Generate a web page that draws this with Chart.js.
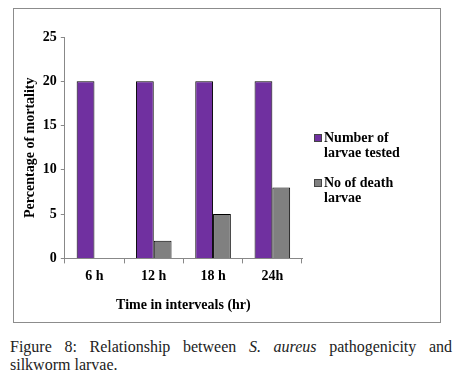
<!DOCTYPE html>
<html>
<head>
<meta charset="utf-8">
<script src="https://cdn.jsdelivr.net/npm/chart.js@4.4.1/dist/chart.umd.min.js"></script>
<style>
  html, body { margin: 0; padding: 0; background: #fff; }
  body { width: 456px; height: 385px; position: relative; overflow: hidden; }
  #frame {
    position: absolute; left: 13px; top: 8px; width: 426px; height: 313px;
    border: 1px solid #8c8c8c; box-sizing: content-box;
  }
  #frame canvas { display: block; }
  .legend {
    position: absolute; left: 310px; font-family: "Liberation Serif", serif;
    font-weight: bold; font-size: 14px; line-height: 15px; color: #000;
  }
  .legend span.box {
    position: absolute; left: -10px; top: 4px; width: 6px; height: 6px;
    border: 1px solid #444;
  }
  #caption {
    position: absolute; left: 10px; top: 338px; width: 442px;
    font-family: "Liberation Serif", serif; font-size: 16px; line-height: 18px;
    text-align: justify; color: #222;
  }
</style>
</head>
<body>
<div id="frame">
  <canvas id="chart" width="426" height="313"></canvas>
  <div id="legend"></div>
</div>
<div id="caption">Figure 8: Relationship between <i>S. aureus</i> pathogenicity and silkworm larvae.</div>
<script>
// Datos
const categories = ['6 h', '12 h', '18 h', '24h'];
const larvaeTested = [20, 20, 20, 20];
const deathLarvae = [0, 2, 5, 8];
const yTicks = [0, 5, 10, 15, 20, 25];
const seriesNames = [['Number of', 'larvae tested'], ['No of death', 'larvae']];
const seriesColors = ['#7030a0', '#808080'];

const serif = '"Liberation Serif", "DejaVu Serif", serif';

document.addEventListener('DOMContentLoaded', function() {
    // Leyenda a la derecha (texto en dos líneas)
    const legend = document.getElementById('legend');
    const legendTops = [121, 166];
    seriesNames.forEach((name, i) => {
        const item = document.createElement('div');
        item.className = 'legend';
        item.style.top = legendTops[i] + 'px';
        item.innerHTML = '<span class="box" style="background:' + seriesColors[i] + '"></span>' + name.join('<br>');
        legend.appendChild(item);
    });

    const ctx = document.getElementById('chart').getContext('2d');
    new Chart(ctx, {
        type: 'bar',
        data: {
            labels: categories,
            datasets: [{
                label: seriesNames[0].join(' '),
                data: larvaeTested,
                backgroundColor: seriesColors[0],
                borderColor: '#000',
                borderWidth: 1
            }, {
                label: seriesNames[1].join(' '),
                data: deathLarvae,
                backgroundColor: seriesColors[1],
                borderColor: '#000',
                borderWidth: 1
            }]
        },
        options: {
            responsive: false,
            animation: false,
            layout: {
                padding: { top: 28, right: 138, left: 8, bottom: 4 }
            },
            datasets: {
                bar: { categoryPercentage: 0.6, barPercentage: 1.0 }
            },
            plugins: {
                tooltip: { enabled: false },
                legend: { display: false }
            },
            scales: {
                x: {
                    grid: {
                        offset: true,
                        drawOnChartArea: false,
                        drawTicks: true,
                        tickLength: 5,
                        color: '#888'
                    },
                    border: { color: '#888' },
                    ticks: {
                        font: { family: serif, size: 14, weight: 'bold' },
                        color: '#000',
                        padding: 5
                    },
                    title: {
                        display: true,
                        text: 'Time in interveals (hr)',
                        font: { family: serif, size: 14, weight: 'bold' },
                        color: '#000',
                        padding: { top: 7 }
                    }
                },
                y: {
                    min: 0,
                    max: 25,
                    afterBuildTicks: function(axis) {
                        axis.ticks = yTicks.map(v => ({ value: v }));
                    },
                    grid: {
                        drawOnChartArea: false,
                        drawTicks: true,
                        tickLength: 4,
                        color: '#888'
                    },
                    border: { color: '#888' },
                    ticks: {
                        font: { family: serif, size: 14, weight: 'bold' },
                        color: '#000',
                        padding: 4
                    },
                    title: {
                        display: true,
                        text: 'Percentage of mortality',
                        font: { family: serif, size: 14, weight: 'bold' },
                        color: '#000',
                        padding: { top: 0, bottom: 0 }
                    }
                }
            }
        }
    });
});
</script>
</body>
</html>
